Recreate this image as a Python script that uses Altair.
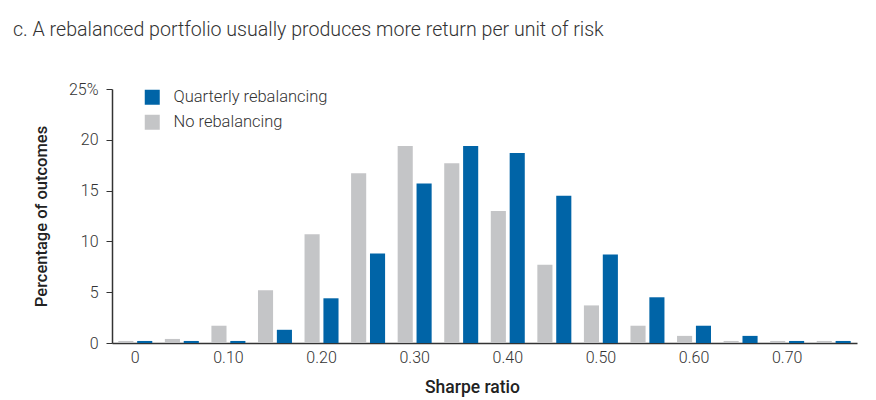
import altair as alt
import pandas as pd

sharpe = ["0", "0.05", "0.10", "0.15", "0.20", "0.25", "0.30", "0.35",
          "0.40", "0.45", "0.50", "0.55", "0.60", "0.65", "0.70", "0.75"]
no_rebal = [0.2, 0.4, 1.7, 5.2, 10.7, 16.7, 19.4, 17.7, 13.0, 7.7, 3.7, 1.7, 0.7, 0.2, 0.2, 0.2]
quarterly = [0.2, 0.2, 0.2, 1.3, 4.4, 8.8, 15.7, 19.4, 18.7, 14.5, 8.7, 4.5, 1.7, 0.7, 0.2, 0.2]
tick_labels = ["0", "0.10", "0.20", "0.30", "0.40", "0.50", "0.60", "0.70"]
series = ["Quarterly rebalancing", "No rebalancing"]
colors = ["#0064A7", "#C4C5C7"]

rows = []
for s, nr, q in zip(sharpe, no_rebal, quarterly):
    rows.append({"sharpe": s, "series": "No rebalancing", "pct": nr})
    rows.append({"sharpe": s, "series": "Quarterly rebalancing", "pct": q})
df = pd.DataFrame(rows)

FONT = "Roboto"

chart = alt.Chart(df).mark_bar().encode(
    x=alt.X("sharpe:N", sort=sharpe,
            scale=alt.Scale(paddingInner=0.27, paddingOuter=0.135),
            axis=alt.Axis(title="Sharpe ratio", values=tick_labels, labelAngle=0,
                          ticks=False, domainColor="#333333", domainWidth=1.5,
                          labelFontSize=16, labelFontWeight=300, labelColor="#333333",
                          labelFont=FONT, labelPadding=6, titleFontSize=17.5, titleFont=FONT,
                          titleFontWeight=500, titleColor="#222222", titlePadding=13,
                          titleX=360, titleAlign="center")),
    xOffset=alt.XOffset("series:N", sort=["No rebalancing", "Quarterly rebalancing"],
                        scale=alt.Scale(paddingInner=0.2)),
    y=alt.Y("pct:Q", scale=alt.Scale(domain=[0, 25], nice=False),
            axis=alt.Axis(title="Percentage of outcomes", values=[0, 5, 10, 15, 20, 25],
                          labelExpr="datum.value == 25 ? '25%' : datum.label",
                          grid=False, tickSize=6, tickColor="#333333", domainColor="#333333",
                          domainWidth=1.5, labelFontSize=16, labelFontWeight=300,
                          labelColor="#333333", labelFont=FONT, labelPadding=8,
                          titleFontSize=16.5, titleFont=FONT, titleFontWeight=500,
                          titleColor="#222222", titlePadding=19)),
    color=alt.Color("series:N", scale=alt.Scale(domain=series, range=colors),
                    legend=alt.Legend(title=None, orient="none", legendX=32, legendY=0,
                                      symbolType="square", symbolSize=225,
                                      symbolStrokeWidth=0, labelFontSize=16.5,
                                      labelFontWeight=300, labelFont=FONT,
                                      labelColor="#333333", labelOffset=13,
                                      rowPadding=8, padding=0)),
).properties(
    width=745, height=254,
    title=alt.TitleParams("c. A rebalanced portfolio usually produces more return per unit of risk",
                          anchor="start", frame="group", dx=-99, offset=40, fontSize=19.6,
                          font=FONT, fontWeight=300, color="#333333"),
    autosize=alt.AutoSizeParams(type="none"),
    padding={"left": 104, "top": 81, "right": 10, "bottom": 56},
).configure_view(stroke=None)

chart.save("out.html", embed_options={"renderer": "svg", "actions": False})
